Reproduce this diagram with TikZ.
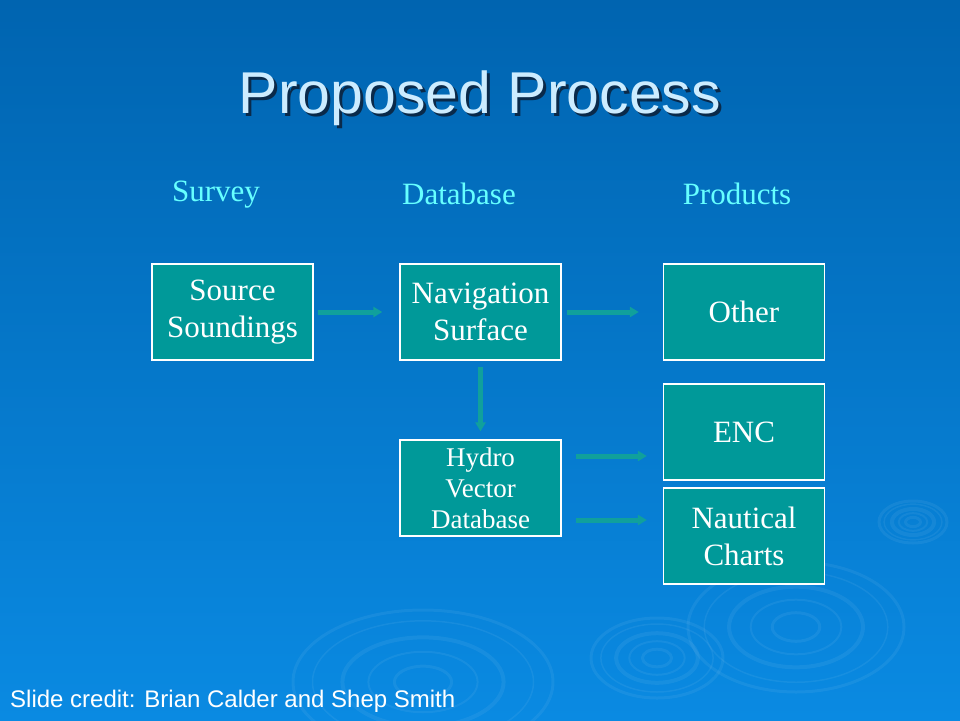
\documentclass[tikz,border=0pt]{standalone}
\usepackage{fontspec}
\setmainfont{Liberation Serif}
\newfontfamily\arialfont{Liberation Sans}
\usetikzlibrary{arrows.meta}
\definecolor{slidetop}{HTML}{0064B0}
\definecolor{slidebot}{HTML}{0A8AE2}
\definecolor{boxteal}{HTML}{009999}
\definecolor{arrteal}{HTML}{10A09C}
\definecolor{headcyan}{HTML}{66FFFF}
\definecolor{titleblue}{HTML}{CCECFF}
\definecolor{titleshade}{HTML}{0A2A4A}

\begin{document}
\begin{tikzpicture}
[   x=1pt,y=-1pt,
    pbox/.style={draw=white,line width=1.3pt,fill=boxteal,text=white,minimum width=161pt,minimum height=96pt,inner sep=0pt,align=center,font=\fontsize{31}{37}\selectfont},
    smallbox/.style={pbox,font=\fontsize{27}{31}\selectfont},
    head/.style={text=headcyan,font=\fontsize{31}{36}\selectfont,anchor=base},
    arr/.style={draw=arrteal,line width=5pt,-{Triangle[length=9pt,width=10pt]}},
    ripple/.style={draw=white,opacity=0.06,line width=#1},
]
    \useasboundingbox (0,0) rectangle (960,720);
    \shade[top color=slidetop,bottom color=slidebot] (0,0) rectangle (960,720);
    % ripples
    \foreach \r/\w in {1/3pt,0.85/1.5pt,0.62/4pt,0.42/2pt,0.22/3pt}
    {   \draw[ripple=\w] (796,627) ellipse [x radius=\r*108pt, y radius=\r*65pt];
        \draw[ripple=\w] (657,658) ellipse [x radius=\r*66pt, y radius=\r*40pt];
        \draw[ripple=\w] (423,682) ellipse [x radius=\r*130pt, y radius=\r*72pt];
        \draw[ripple=\w] (913,522) ellipse [x radius=\r*34pt, y radius=\r*21pt];
    }
    % title
    \node[anchor=base,text=titleshade,font=\arialfont\fontsize{59}{70}\selectfont] (title-s) at (483,116) {Proposed Process};
    \node[anchor=base,text=titleblue,font=\arialfont\fontsize{59}{70}\selectfont] (title) at (480,113) {Proposed Process};
    % column heads
    \node[head] (h-survey) at (216,201) {Survey};
    \node[head] (h-data) at (459,204) {Database};
    \node[head] (h-prod) at (737,204) {Products};
    % boxes
    \node[pbox] (src) at (232.5,312) {Source\\Soundings};
    \node[pbox] (nav) at (480.5,312) {Navigation\\Surface};
    \node[smallbox] (hydro) at (480.5,488) {Hydro\\Vector\\Database};
    \node[pbox] (other) at (744,312) {Other};
    \node[pbox] (enc) at (744,432) {ENC};
    \node[pbox] (naut) at (744,536) {Nautical\\Charts};
    % arrows
    \draw[arr,shorten <=4pt,shorten >=17pt] (src) -- (nav);
    \draw[arr,shorten <=5pt,shorten >=24pt] (nav) -- (other);
    \draw[arr,shorten <=6pt,shorten >=8pt] (nav) -- (hydro);
    \coordinate (hy-up) at ([yshift=32pt]hydro.east);
    \coordinate (hy-dn) at ([yshift=-32pt]hydro.east);
    \draw[arr,shorten <=14pt,shorten >=16pt] (hy-up) -- (hy-up -| enc.west);
    \draw[arr,shorten <=14pt,shorten >=16pt] (hy-dn) -- (hy-dn -| naut.west);
    % credit
    \node[anchor=base west,inner sep=0pt,text=white,font=\arialfont\fontsize{24}{28}\selectfont] (credit) at (10,707) {Slide credit: Brian Calder and Shep Smith};
\end{tikzpicture}
\end{document}
